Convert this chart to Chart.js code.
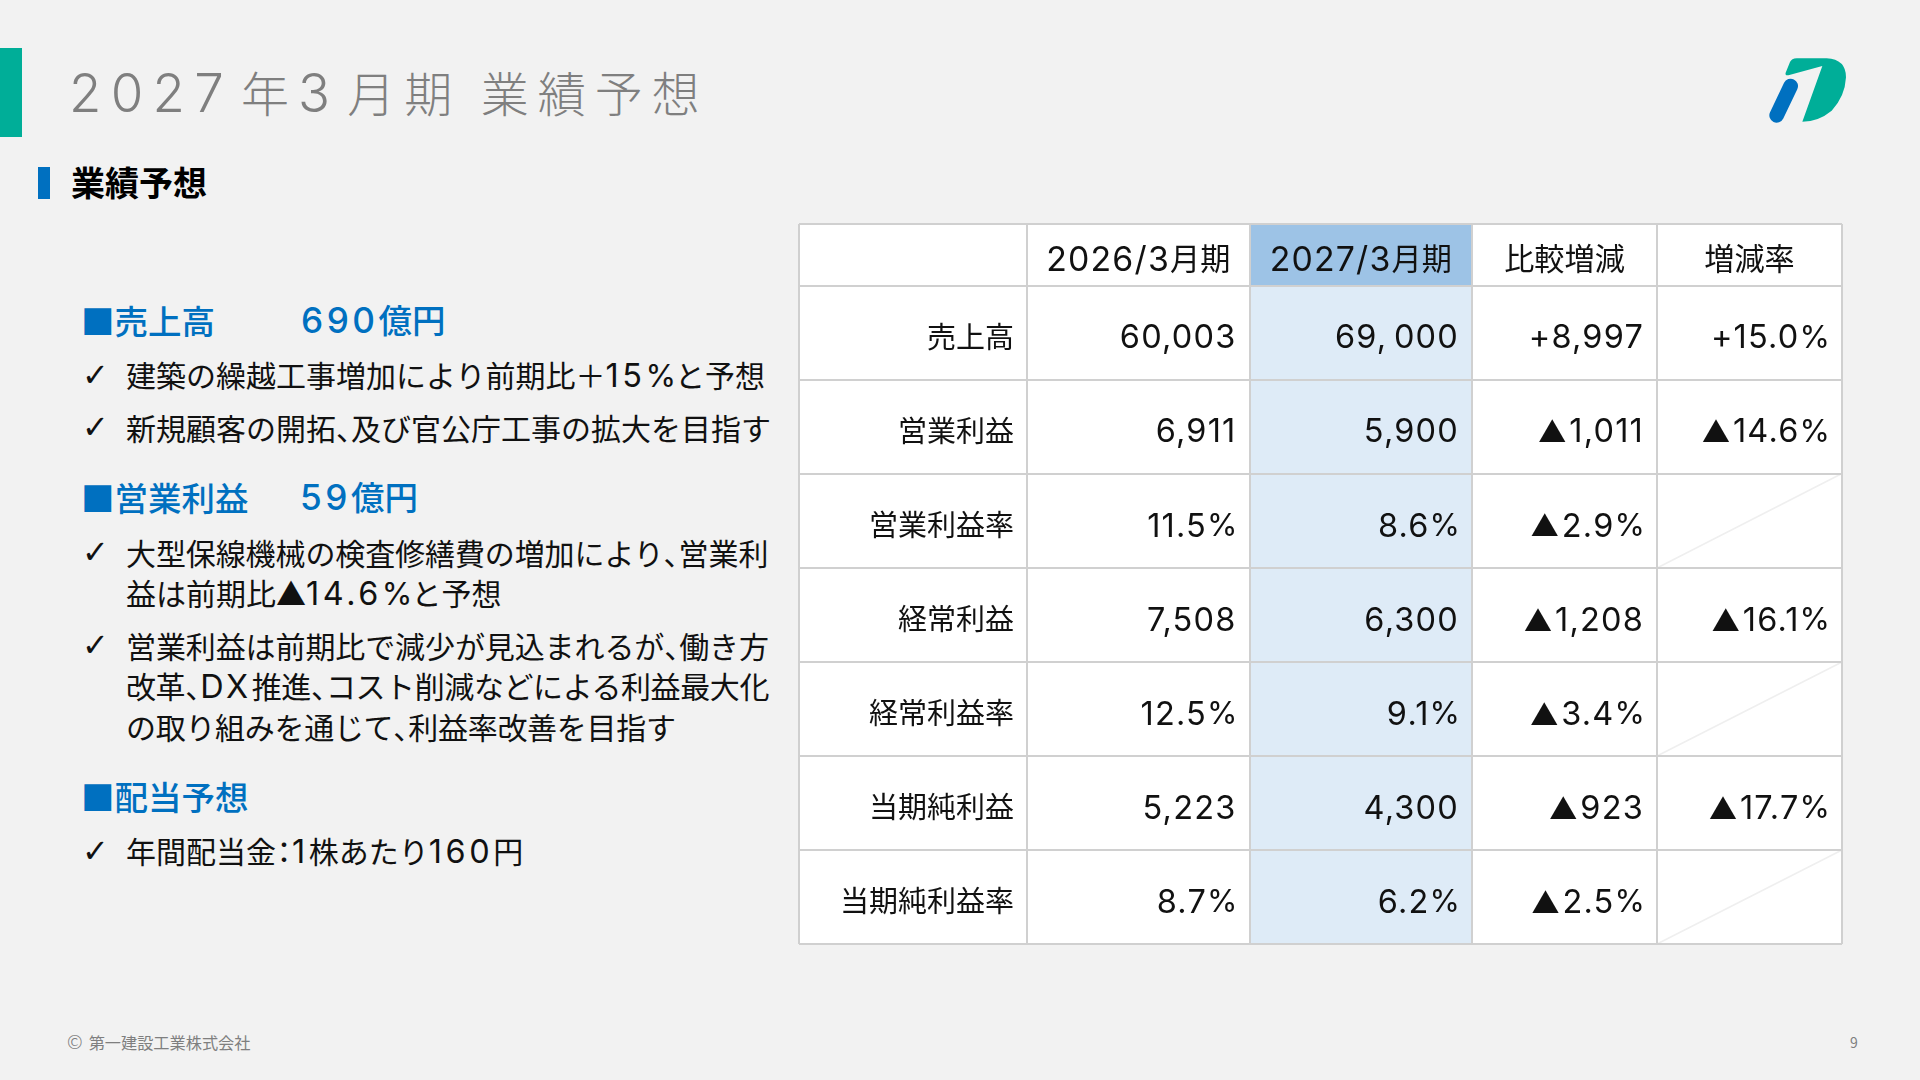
<!DOCTYPE html>
<html lang="ja">
<head>
<meta charset="utf-8">
<title>2027年3月期 業績予想</title>
<script src="https://cdn.jsdelivr.net/npm/chart.js@4/dist/chart.umd.min.js"></script>
<style>
html, body { margin: 0; padding: 0; width: 1920px; height: 1080px; overflow: hidden; background: #f2f2f2; }
body { position: relative; font-family: "Noto Sans CJK JP", sans-serif; color: #111; }
.abs { position: absolute; white-space: nowrap; line-height: 1; transform: translateY(-50%); }
.bar { position: absolute; }
.lat { font-family: Inter, sans-serif; font-weight: 400; font-size: 1.08em; letter-spacing: .11em; }
.pct { font-family: Inter, sans-serif; font-size: 1.04em; letter-spacing: -.03em; }
.ten { letter-spacing: -.5em; }
.cln { margin: 0 -7px; }
.title { left: 69px; top: 93px; font-size: 48px; font-weight: 300; letter-spacing: 9px; color: #7f7f7f; }
.title .lat { font-weight: 300; font-size: 1.1em; letter-spacing: .175em; margin-right: 8px; }
.sub { left: 71px; top: 182px; font-size: 34px; font-weight: 700; color: #000; }
.head { left: 81px; font-size: 33.5px; font-weight: 500; color: #0070c0; }
.head .lat { font-weight: 500; font-size: 1.05em; letter-spacing: .1em; }
.line { left: 126px; font-size: 30px; }
.chk { left: 82px; font-family: "DejaVu Sans", sans-serif; font-size: 32px; }
.foot { left: 67px; top: 1041px; font-size: 16.2px; color: #7f7f7f; }
.foot i { font-style: normal; font-size: 19px; font-weight: 300; margin-right: 6px; }
.page { left: 1850px; top: 1042px; font-size: 14px; color: #7f7f7f; }
#tableWrap { position: absolute; left: 797px; top: 222px; }
#logo { position: absolute; left: 1760px; top: 40px; }
</style>
</head>
<body>
<div class="bar" style="left:0;top:48px;width:22px;height:89px;background:#00ae98"></div>
<div class="bar" style="left:38px;top:167px;width:12px;height:32px;background:#0070c0"></div>
<svg id="logo" width="100" height="100" viewBox="0 0 300 300">
  <path d="M77 98 L90 66 Q95 56 110 55 L200 55 Q258 58 258 112 Q255 170 215 212 Q175 245 127 245 L187 78 L88 105 Q74 108 77 98 Z" fill="#00ae98"/>
  <path d="M92 138 L50 226" stroke="#0070c0" stroke-width="44" stroke-linecap="round" fill="none"/>
</svg>

<div class="abs title t">2027年3月期 業績予想</div>
<div class="abs sub">業績予想</div>

<div class="abs head t" style="top:320px">■売上高</div>
<div class="abs head t" style="top:320px;left:301px">690億円</div>
<div class="abs chk" style="top:375px">✓</div>
<div class="abs line t" style="top:376px">建築の繰越工事増加により前期比＋15%と予想</div>
<div class="abs chk" style="top:427px">✓</div>
<div class="abs line t" style="top:427px">新規顧客の開拓、及び官公庁工事の拡大を目指す</div>

<div class="abs head t" style="top:497px">■営業利益</div>
<div class="abs head t" style="top:497px;left:300px">59億円</div>
<div class="abs chk" style="top:552px">✓</div>
<div class="abs line t" style="top:552px;letter-spacing:-.1px">大型保線機械の検査修繕費の増加により、営業利</div>
<div class="abs line t" style="top:594px">益は前期比▲14.6%と予想</div>
<div class="abs chk" style="top:645px">✓</div>
<div class="abs line t" style="top:645px;letter-spacing:-.1px">営業利益は前期比で減少が見込まれるが、働き方</div>
<div class="abs line t" style="top:687px;letter-spacing:-.4px">改革、DX推進、コスト削減などによる利益最大化</div>
<div class="abs line t" style="top:726px;letter-spacing:-.3px">の取り組みを通じて、利益率改善を目指す</div>

<div class="abs head t" style="top:796px">■配当予想</div>
<div class="abs chk" style="top:851px">✓</div>
<div class="abs line t" style="top:852px">年間配当金：1株あたり160円</div>

<div class="abs foot"><i>©</i>第一建設工業株式会社</div>
<div class="abs page">9</div>

<div id="tableWrap"><canvas id="table" width="1047" height="724"></canvas></div>

<script>
// table contents
const columns = ['', '2026/3月期', '2027/3月期', '比較増減', '増減率'];
const rowNames = ['売上高', '営業利益', '営業利益率', '経常利益', '経常利益率', '当期純利益', '当期純利益率'];
const fy2026 = ['60,003', '6,911', '11.5%', '7,508', '12.5%', '5,223', '8.7%'];
const fy2027 = ['69, 000', '5,900', '8.6%', '6,300', '9.1%', '4,300', '6.2%'];
const change = ['+8,997', '▲1,011', '▲2.9%', '▲1,208', '▲3.4%', '▲923', '▲2.5%'];
const changeRate = ['+15.0%', '▲14.6%', null, '▲16.1%', null, '▲17.7%', null];

// layout of the grid, in px of the table
const colEdges = [0, 228, 450.5, 673, 858, 1043];
const rowEdges = [0, 61.5, 155.5, 249.5, 344, 438, 532, 626, 720];
const PAD = 2, CELL_PAD = 13;

const LINE = '#d0d0d0', WHITE = '#ffffff', HEAD_BLUE = '#9dc3e6', TINT = '#deebf7';

// latin runs get their own font so digits come out as wide as in the slide
document.querySelectorAll('.t').forEach(el => {
    el.innerHTML = el.textContent
        .replace(/[0-9A-Za-z+.,\/]+/g, m => `<span class="lat">${m}</span>`)
        .replace(/%/g, '<span class="pct">%</span>')
        .replace(/、/g, '<span class="ten">、</span>')
        .replace(/：/g, '<span class="cln">：</span>');
});

function splitRuns(text) {
    return text.match(/▲|%|[!-$&-~]+|[^!-~▲]+/g) || [];
}

function isLatin(run) {
    return /^[!-~]/.test(run);
}

function setRunFont(ctx, run, scale) {
    if (run === '%') {
        ctx.font = `400 ${31 * scale}px Inter`;
        ctx.letterSpacing = '-1px';
    } else if (run === '▲') {
        ctx.font = `400 ${28 * scale}px "Noto Sans CJK JP"`;
        ctx.letterSpacing = '0px';
    } else if (isLatin(run)) {
        ctx.font = `400 ${32.5 * scale}px Inter`;
        ctx.letterSpacing = '1.2px';
    } else {
        ctx.font = `400 ${29 * scale}px "Noto Sans CJK JP"`;
        ctx.letterSpacing = '0px';
    }
}

function runWidth(ctx, run, scale) {
    setRunFont(ctx, run, scale);
    return ctx.measureText(run).width + (run === '▲' ? 3 : 0);
}

function runsWidth(ctx, text, scale) {
    return splitRuns(text).reduce((w, run) => w + runWidth(ctx, run, scale), 0);
}

function drawRuns(ctx, text, x, y, scale) {
    splitRuns(text).forEach(run => {
        const w = runWidth(ctx, run, scale);
        ctx.fillText(run, x, isLatin(run) || run === '▲' ? y + 1 : y - 1);
        x += w;
    });
}

// one scatter dataset per column, the text is hung on the parsed points
function cellPoints(values, col, align) {
    const x = align === 'center'
        ? (colEdges[col] + colEdges[col + 1]) / 2
        : colEdges[col + 1] - CELL_PAD;
    return values.map((text, r) => ({
        x, y: (rowEdges[r] + rowEdges[r + 1]) / 2, text, align
    })).filter(p => p.text);
}

const tablePlugin = {
    id: 'tablePlugin',
    beforeDraw(chart) {
        const { ctx, scales: { x, y } } = chart;
        const fill = (c0, c1, r0, r1, color) => {
            ctx.fillStyle = color;
            ctx.fillRect(x.getPixelForValue(colEdges[c0]), y.getPixelForValue(rowEdges[r0]),
                x.getPixelForValue(colEdges[c1]) - x.getPixelForValue(colEdges[c0]),
                y.getPixelForValue(rowEdges[r1]) - y.getPixelForValue(rowEdges[r0]));
        };
        ctx.save();
        fill(0, columns.length, 0, rowEdges.length - 1, WHITE);
        fill(2, 3, 0, 1, HEAD_BLUE);
        fill(2, 3, 1, rowEdges.length - 1, TINT);
        // empty rate cells are struck through
        ctx.strokeStyle = '#efefef';
        ctx.lineWidth = 1.5;
        changeRate.forEach((v, r) => {
            if (v !== null) return;
            ctx.beginPath();
            ctx.moveTo(x.getPixelForValue(colEdges[4]), y.getPixelForValue(rowEdges[r + 2]));
            ctx.lineTo(x.getPixelForValue(colEdges[5]), y.getPixelForValue(rowEdges[r + 1]));
            ctx.stroke();
        });
        ctx.restore();
    },
    afterDatasetsDraw(chart) {
        const { ctx } = chart;
        ctx.save();
        ctx.fillStyle = '#111';
        ctx.textAlign = 'left';
        ctx.textBaseline = 'middle';
        chart.data.datasets.forEach((ds, i) => {
            chart.getDatasetMeta(i).data.forEach((pt, j) => {
                const cell = ds.data[j];
                const w = runsWidth(ctx, cell.text, cell.scale);
                const left = cell.align === 'center' ? pt.x - w / 2 : pt.x - w;
                drawRuns(ctx, cell.text, left, pt.y + cell.dy, cell.scale);
            });
        });
        ctx.restore();
    }
};

const bodyRows = [rowNames, fy2026, fy2027, change, changeRate];
const datasets = bodyRows.map((values, c) => ({
    label: columns[c] || '項目',
    data: cellPoints(['', ...values], c, 'right').map(p => ({ ...p, dy: 5, scale: 1 })),
    pointRadius: 0
}));
datasets.push({
    label: 'ヘッダー',
    data: columns.flatMap((text, c) => cellPoints([text], c, 'center')).map(p => ({ ...p, dy: 5, scale: 1.04 })),
    pointRadius: 0
});

new Chart(document.getElementById('table'), {
    type: 'scatter',
    data: { datasets },
    plugins: [tablePlugin],
    options: {
        responsive: false,
        animation: false,
        layout: { padding: PAD },
        plugins: { legend: { display: false }, tooltip: { enabled: false } },
        scales: {
            x: {
                type: 'linear',
                min: colEdges[0],
                max: colEdges[colEdges.length - 1],
                afterBuildTicks: s => { s.ticks = colEdges.map(value => ({ value })); },
                ticks: { display: false },
                border: { display: false },
                grid: { color: LINE, lineWidth: 2, drawTicks: false }
            },
            y: {
                type: 'linear',
                reverse: true,
                min: rowEdges[0],
                max: rowEdges[rowEdges.length - 1],
                afterBuildTicks: s => { s.ticks = rowEdges.map(value => ({ value })); },
                ticks: { display: false },
                border: { display: false },
                grid: { color: LINE, lineWidth: 2, drawTicks: false }
            }
        }
    }
});
</script>
</body>
</html>
